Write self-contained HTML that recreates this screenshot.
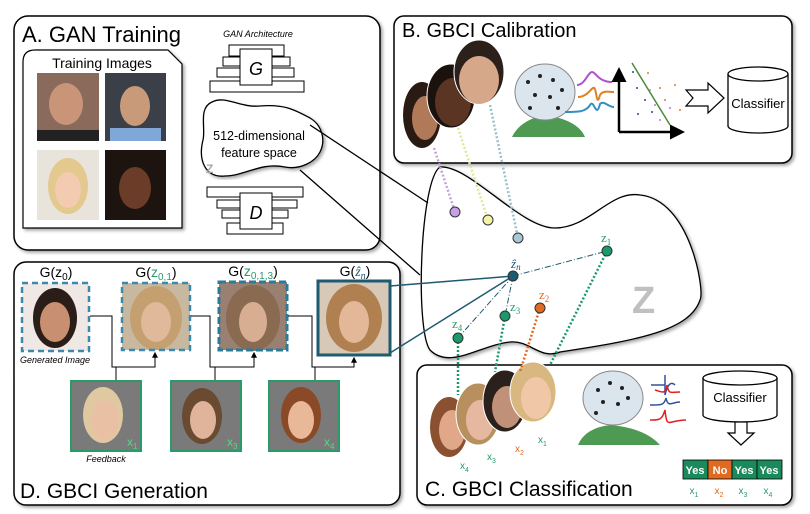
<!DOCTYPE html>
<html><head><meta charset="utf-8"><style>
html,body{margin:0;padding:0;background:#fff;}
svg{display:block;font-family:"Liberation Sans",sans-serif;}
</style></head><body>
<svg width="810" height="514" viewBox="0 0 810 514" xmlns="http://www.w3.org/2000/svg">
<defs>
<filter id="sh" x="-5%" y="-5%" width="110%" height="110%"><feDropShadow dx="2" dy="2" stdDeviation="1.5" flood-color="#000" flood-opacity="0.35"/></filter>
<marker id="ar" viewBox="0 0 10 10" refX="8" refY="5" markerWidth="6" markerHeight="6" orient="auto"><path d="M0,0L10,5L0,10z" fill="#000"/></marker>
</defs>

<!-- Panel A -->
<rect x="14" y="16" width="366" height="234" rx="14" fill="#fff" stroke="#000" stroke-width="1.5" filter="url(#sh)"/>
<text x="22" y="42" font-size="22">A. GAN Training</text>
<path d="M35,50 H168 L182,64 V228 H23 V62 Q23,50 35,50Z" fill="#fff" stroke="#000" stroke-width="1.2" filter="url(#sh)"/>
<text x="102" y="68" font-size="14" text-anchor="middle">Training Images</text>
<rect x="37" y="73" width="62" height="68" fill="#8a6a5a"/>
<ellipse cx="66" cy="104" rx="17" ry="21" fill="#c99478"/>
<rect x="37" y="130" width="62" height="11" fill="#222"/>
<rect x="105" y="73" width="61" height="68" fill="#3b3f48"/>
<ellipse cx="135" cy="106" rx="15" ry="20" fill="#c89a7a"/>
<rect x="110" y="128" width="51" height="13" fill="#7fa8d8"/>
<rect x="37" y="150" width="62" height="70" fill="#e8e4dc"/>
<ellipse cx="68" cy="186" rx="20" ry="28" fill="#e3c98e"/>
<ellipse cx="68" cy="190" rx="13" ry="18" fill="#f2cbb0"/>
<rect x="105" y="150" width="61" height="70" fill="#1d1410"/>
<ellipse cx="135" cy="188" rx="16" ry="21" fill="#6b3d28"/>

<text x="258" y="37" font-size="9" font-style="italic" text-anchor="middle">GAN Architecture</text>
<g fill="#fff" stroke="#000" stroke-width="1">
<rect x="229" y="45" width="55" height="11"/>
<rect x="223" y="57" width="67" height="9"/>
<rect x="217" y="68" width="77" height="9"/>
<rect x="210" y="81" width="94" height="11"/>
<rect x="240" y="49" width="32" height="36"/>
<rect x="207" y="187" width="96" height="10"/>
<rect x="217" y="200" width="80" height="8"/>
<rect x="222" y="210" width="66" height="8"/>
<rect x="227" y="223" width="56" height="11"/>
<rect x="240" y="193" width="32" height="36"/>
</g>
<text x="256" y="75" font-size="18" font-style="italic" text-anchor="middle">G</text>
<text x="256" y="219" font-size="18" font-style="italic" text-anchor="middle">D</text>
<path d="M212,102 C225,95 240,108 260,106 C285,104 295,110 310,118 C322,125 326,140 320,152 C315,162 300,170 285,167 C260,162 245,176 225,176 C205,178 198,160 203,140 C206,128 198,108 212,102Z" fill="#fff" stroke="#000" stroke-width="1.3" filter="url(#sh)"/>
<text x="259" y="140" font-size="12.5" text-anchor="middle">512-dimensional</text>
<text x="259" y="157" font-size="12.5" text-anchor="middle">feature space</text>
<text x="206" y="173" font-size="12" font-weight="bold" fill="#aaa">Z</text>

<!-- Panel B -->
<rect x="394" y="16" width="398" height="147" rx="10" fill="#fff" stroke="#000" stroke-width="1.5" filter="url(#sh)"/>
<text x="402" y="37" font-size="20">B. GBCI Calibration</text>
<ellipse cx="422" cy="115" rx="19" ry="33" fill="#2a1a14"/>
<ellipse cx="425" cy="118" rx="13" ry="22" fill="#b07a58"/>
<ellipse cx="451" cy="96" rx="24" ry="32" fill="#1b120e" stroke="#fff" stroke-width="1"/>
<ellipse cx="453" cy="102" rx="18" ry="24" fill="#5a3524"/>
<ellipse cx="479" cy="72" rx="25" ry="32" fill="#2b201a" stroke="#fff" stroke-width="1"/>
<ellipse cx="479" cy="80" rx="20" ry="24" fill="#d7a78a"/>
<path d="M512,137 Q520,120 545,115 Q578,120 585,137Z" fill="#4f9a52"/>
<ellipse cx="545" cy="92" rx="30" ry="28" fill="#dbe5ee" stroke="#888"/>
<g fill="#222"><circle cx="528" cy="82" r="2"/><circle cx="540" cy="76" r="2"/><circle cx="553" cy="80" r="2"/><circle cx="535" cy="95" r="2"/><circle cx="550" cy="97" r="2"/><circle cx="562" cy="90" r="2"/><circle cx="530" cy="108" r="2"/><circle cx="558" cy="108" r="2"/></g>
<path d="M577,85 C585,85 588,72 592,72 C596,72 598,82 612,82" stroke="#b050d0" stroke-width="2" fill="none"/>
<path d="M578,97 C586,97 590,90 593,88 C597,85 596,110 600,95 C603,90 610,92 614,92" stroke="#e08020" stroke-width="2" fill="none"/>
<path d="M565,112 C578,112 586,112 590,105 C594,98 596,120 600,104 C604,100 608,107 614,107" stroke="#3090c0" stroke-width="2" fill="none"/>
<path d="M619,132 V70" stroke="#000" stroke-width="2.5" marker-end="url(#ar)"/>
<path d="M619,132 H682" stroke="#000" stroke-width="2.5" marker-end="url(#ar)"/>
<path d="M632,63 L670,125" stroke="#4a8a3a" stroke-width="1.5"/>
<g fill="#334488"><circle cx="633" cy="72" r="1"/><circle cx="637" cy="88" r="1"/><circle cx="645" cy="100" r="1"/><circle cx="638" cy="114" r="1"/><circle cx="652" cy="112" r="1"/></g>
<g fill="#d08040"><circle cx="648" cy="73" r="1"/><circle cx="660" cy="88" r="1"/><circle cx="665" cy="100" r="1"/><circle cx="675" cy="85" r="1"/><circle cx="680" cy="110" r="1"/></g>
<g fill="#b080d0"><circle cx="650" cy="90" r="1"/><circle cx="655" cy="105" r="1"/><circle cx="660" cy="120" r="1"/><circle cx="670" cy="108" r="1"/></g>
<path d="M686,90 H708 V83 L724,98 L708,113 V106 H686 L693,98Z" fill="#fff" stroke="#000" stroke-width="1.2"/>
<path d="M728,74 V126 A30,7 0 0 0 788,126 V74" fill="#fff" stroke="#000" stroke-width="1.3"/>
<ellipse cx="758" cy="74" rx="30" ry="7" fill="#fff" stroke="#000" stroke-width="1.3"/>
<text x="758" y="108" font-size="13" text-anchor="middle">Classifier</text>

<!-- Panel D -->
<rect x="14" y="262" width="386" height="243" rx="12" fill="#fff" stroke="#000" stroke-width="1.5" filter="url(#sh)"/>
<text x="20" y="498" font-size="21">D. GBCI Generation</text>
<text x="56" y="277" font-size="14" text-anchor="middle">G(z<tspan font-size="10" dy="3">0</tspan><tspan dy="-3">)</tspan></text>
<text x="156" y="277" font-size="14" text-anchor="middle">G(<tspan fill="#2a9a6a">z<tspan font-size="10" dy="3">0,1</tspan></tspan><tspan dy="-3">)</tspan></text>
<text x="253" y="276" font-size="14" text-anchor="middle">G(<tspan fill="#2a9a6a">z<tspan font-size="10" dy="3">0,1,3</tspan></tspan><tspan dy="-3">)</tspan></text>
<text x="355" y="276" font-size="14" text-anchor="middle">G(<tspan fill="#1e5a70" font-style="italic" font-family="Liberation Serif">ẑ<tspan font-size="10" dy="3">n</tspan></tspan><tspan dy="-3">)</tspan></text>
<!-- images -->
<rect x="22" y="283" width="67" height="68" fill="#f0e8e4"/>
<ellipse cx="55" cy="318" rx="22" ry="30" fill="#2b1e18"/>
<ellipse cx="55" cy="322" rx="15" ry="20" fill="#c89070"/>
<rect x="22" y="283" width="67" height="68" fill="none" stroke="#3a8ab0" stroke-width="2.5" stroke-dasharray="6,4"/>
<rect x="122" y="283" width="68" height="67" fill="#c8b8a0"/>
<ellipse cx="156" cy="318" rx="26" ry="32" fill="#c4a070"/>
<ellipse cx="156" cy="322" rx="15" ry="20" fill="#e0b89a"/>
<rect x="122" y="283" width="68" height="67" fill="none" stroke="#3a8ab0" stroke-width="2.5" stroke-dasharray="6,4"/>
<rect x="219" y="282" width="68" height="68" fill="#9a8070"/>
<ellipse cx="253" cy="318" rx="27" ry="33" fill="#8a6a50"/>
<ellipse cx="253" cy="322" rx="14" ry="20" fill="#d8ae92"/>
<rect x="219" y="282" width="68" height="68" fill="none" stroke="#2a7a9a" stroke-width="3" stroke-dasharray="7,3"/>
<rect x="318" y="281" width="72" height="74" fill="#d8c8b8"/>
<ellipse cx="354" cy="318" rx="28" ry="34" fill="#b08050"/>
<ellipse cx="354" cy="322" rx="15" ry="21" fill="#e2b898"/>
<rect x="318" y="281" width="72" height="74" fill="none" stroke="#1e5a70" stroke-width="3"/>
<text x="55" y="363" font-size="9" font-style="italic" text-anchor="middle">Generated Image</text>
<g stroke="#000" stroke-width="1" fill="none">
<path d="M90,316 H112 V367 H155 V353" marker-end="url(#ar)"/>
<path d="M116,367 V380"/>
<path d="M191,316 H210 V367 H254 V353" marker-end="url(#ar)"/>
<path d="M215,367 V380"/>
<path d="M288,316 H312 V367 H354 V358" marker-end="url(#ar)"/>
<path d="M315,367 V380"/>
</g>
<g>
<rect x="71" y="381" width="70" height="70" fill="#7a7a7a" stroke="#2a9a6a" stroke-width="2"/>
<ellipse cx="103" cy="415" rx="20" ry="28" fill="#e0c8a0"/>
<ellipse cx="105" cy="420" rx="14" ry="20" fill="#eac0a4"/>
<text x="127" y="446" font-size="12" fill="#4ade80">x<tspan font-size="8" dy="3">1</tspan></text>
<rect x="171" y="381" width="70" height="70" fill="#7a7a7a" stroke="#2a9a6a" stroke-width="2"/>
<ellipse cx="202" cy="416" rx="20" ry="28" fill="#6a4a30"/>
<ellipse cx="203" cy="420" rx="13" ry="19" fill="#e0b49a"/>
<text x="227" y="446" font-size="12" fill="#4ade80">x<tspan font-size="8" dy="3">3</tspan></text>
<rect x="269" y="381" width="70" height="70" fill="#7a7a7a" stroke="#2a9a6a" stroke-width="2"/>
<ellipse cx="301" cy="415" rx="20" ry="28" fill="#8a4a28"/>
<ellipse cx="301" cy="420" rx="13" ry="19" fill="#e8b898"/>
<text x="324" y="446" font-size="12" fill="#4ade80">x<tspan font-size="8" dy="3">4</tspan></text>
</g>
<text x="106" y="462" font-size="9" font-style="italic" text-anchor="middle">Feedback</text>

<!-- Panel C -->
<rect x="417" y="365" width="375" height="140" rx="10" fill="#fff" stroke="#000" stroke-width="1.5" filter="url(#sh)"/>
<text x="425" y="496" font-size="21">C. GBCI Classification</text>
<ellipse cx="449" cy="427" rx="19" ry="30" fill="#8a5030"/>
<ellipse cx="452" cy="430" rx="13" ry="20" fill="#e0a888"/>
<ellipse cx="478" cy="414" rx="22" ry="31" fill="#b89060" stroke="#fff"/>
<ellipse cx="480" cy="420" rx="14" ry="20" fill="#e6b8a0"/>
<ellipse cx="505" cy="401" rx="22" ry="31" fill="#2a201c" stroke="#fff"/>
<ellipse cx="507" cy="407" rx="15" ry="21" fill="#c09078"/>
<ellipse cx="533" cy="392" rx="23" ry="30" fill="#d8b880" stroke="#fff"/>
<ellipse cx="536" cy="398" rx="15" ry="21" fill="#f0c8a8"/>
<text x="538" y="443" font-size="10" fill="#2a9a6a">x<tspan font-size="7" dy="3">1</tspan></text>
<text x="515" y="452" font-size="10" fill="#e06a20">x<tspan font-size="7" dy="3">2</tspan></text>
<text x="487" y="460" font-size="10" fill="#2a9a6a">x<tspan font-size="7" dy="3">3</tspan></text>
<text x="460" y="469" font-size="10" fill="#2a9a6a">x<tspan font-size="7" dy="3">4</tspan></text>
<path d="M578,445 Q585,428 610,425 Q645,428 660,445Z" fill="#4f9a52"/>
<ellipse cx="613" cy="398" rx="30" ry="27" fill="#dbe5ee" stroke="#888"/>
<g fill="#222"><circle cx="598" cy="390" r="2"/><circle cx="610" cy="383" r="2"/><circle cx="622" cy="388" r="2"/><circle cx="603" cy="402" r="2"/><circle cx="618" cy="404" r="2"/><circle cx="628" cy="398" r="2"/><circle cx="596" cy="413" r="2"/></g>
<path d="M651,385 H665 V375 V395 C668,382 672,382 675,385" stroke="#3050a0" stroke-width="1.5" fill="none"/>
<path d="M655,390 C662,392 665,395 667,385 C669,395 670,392 680,392" stroke="#e02020" stroke-width="1.5" fill="none"/>
<path d="M650,420 C660,420 662,420 665,410 C667,430 668,420 686,420" stroke="#e02020" stroke-width="1.5" fill="none"/>
<path d="M650,405 C660,405 664,406 666,398 C668,408 672,402 680,402" stroke="#3050a0" stroke-width="1.5" fill="none"/>
<path d="M703,378 V415 A37,7 0 0 0 777,415 V378" fill="#fff" stroke="#000" stroke-width="1.3"/>
<ellipse cx="740" cy="378" rx="37" ry="7" fill="#fff" stroke="#000" stroke-width="1.3"/>
<text x="740" y="402" font-size="13" text-anchor="middle">Classifier</text>
<path d="M735,422 H747 V433 H754 L741,445 L728,433 H735Z" fill="#fff" stroke="#000" stroke-width="1.2"/>
<rect x="683" y="460" width="25" height="19" fill="#1a8a5a" stroke="#000" stroke-width="0.8"/>
<rect x="708" y="460" width="24" height="19" fill="#e06a20" stroke="#000" stroke-width="0.8"/>
<rect x="732" y="460" width="25" height="19" fill="#1a8a5a" stroke="#000" stroke-width="0.8"/>
<rect x="757" y="460" width="25" height="19" fill="#1a8a5a" stroke="#000" stroke-width="0.8"/>
<g font-size="11" font-weight="bold" fill="#fff" text-anchor="middle">
<text x="695" y="474">Yes</text><text x="720" y="474">No</text><text x="744" y="474">Yes</text><text x="769" y="474">Yes</text></g>
<g font-size="10" text-anchor="middle">
<text x="694" y="494" fill="#2a9a6a">x<tspan font-size="7" dy="3">1</tspan></text>
<text x="719" y="494" fill="#e06a20">x<tspan font-size="7" dy="3">2</tspan></text>
<text x="743" y="494" fill="#2a9a6a">x<tspan font-size="7" dy="3">3</tspan></text>
<text x="768" y="494" fill="#2a9a6a">x<tspan font-size="7" dy="3">4</tspan></text></g>

<!-- Z space blob -->
<path d="M440,167 C470,165 520,228 555,228 C590,228 610,190 640,195 C690,200 705,290 700,300 C690,330 640,340 560,352 C540,360 530,340 510,342 C480,345 450,370 430,350 C415,330 420,180 440,167Z" fill="#fff" stroke="#000" stroke-width="1.3" filter="url(#sh)"/>
<text x="632" y="313" font-size="38" font-weight="bold" fill="#c0c0c0">Z</text>
<!-- connection lines from A -->
<path d="M310,125 L428,203" stroke="#000" stroke-width="1.3"/>
<path d="M300,170 L420,275" stroke="#000" stroke-width="1.3"/>
<!-- dotted lines -->
<g stroke-width="2.5" stroke-dasharray="2,2" fill="none">
<path d="M434,148 L455,212" stroke="#c8a0e0"/>
<path d="M458,128 L488,220" stroke="#dde89a"/>
<path d="M490,105 L518,238" stroke="#9ac0cc"/>
<path d="M607,251 L550,365" stroke="#1a9a6a"/>
<path d="M540,308 L520,372" stroke="#e06a20"/>
<path d="M505,316 L495,372" stroke="#1a9a6a"/>
<path d="M458,338 L458,395" stroke="#1a9a6a"/>
</g>
<!-- dash-dot lines to zn -->
<g stroke="#1e5a70" stroke-width="1" stroke-dasharray="6,2,1,2" fill="none">
<path d="M513,276 L607,251"/><path d="M513,276 L505,316"/><path d="M513,276 L458,338"/>
</g>
<path d="M390,286 L513,276" stroke="#1e5a70" stroke-width="1.5"/>
<path d="M390,353 L513,276" stroke="#1e5a70" stroke-width="1.5"/>
<g stroke="#333" stroke-width="1">
<circle cx="455" cy="212" r="5" fill="#c89ee8"/>
<circle cx="488" cy="220" r="5" fill="#f4f4a8"/>
<circle cx="518" cy="238" r="5" fill="#a8c8d8"/>
<circle cx="513" cy="276" r="5" fill="#1e5a70"/>
<circle cx="607" cy="251" r="5" fill="#1a9a6a"/>
<circle cx="540" cy="308" r="5" fill="#e06a20"/>
<circle cx="505" cy="316" r="5" fill="#1a9a6a"/>
<circle cx="458" cy="338" r="5" fill="#1a9a6a"/>
</g>
<g font-family="Liberation Serif" font-size="13">
<text x="511" y="268" fill="#1e5a70" font-style="italic">ẑ<tspan font-size="9" dy="2">n</tspan></text>
<text x="601" y="242" fill="#2a9a6a">z<tspan font-size="9" dy="3">1</tspan></text>
<text x="539" y="299" fill="#e06a20">z<tspan font-size="9" dy="3">2</tspan></text>
<text x="510" y="311" fill="#2a9a6a">z<tspan font-size="9" dy="3">3</tspan></text>
<text x="452" y="328" fill="#2a9a6a">z<tspan font-size="9" dy="3">4</tspan></text>
</g>
</svg>
</body></html>
